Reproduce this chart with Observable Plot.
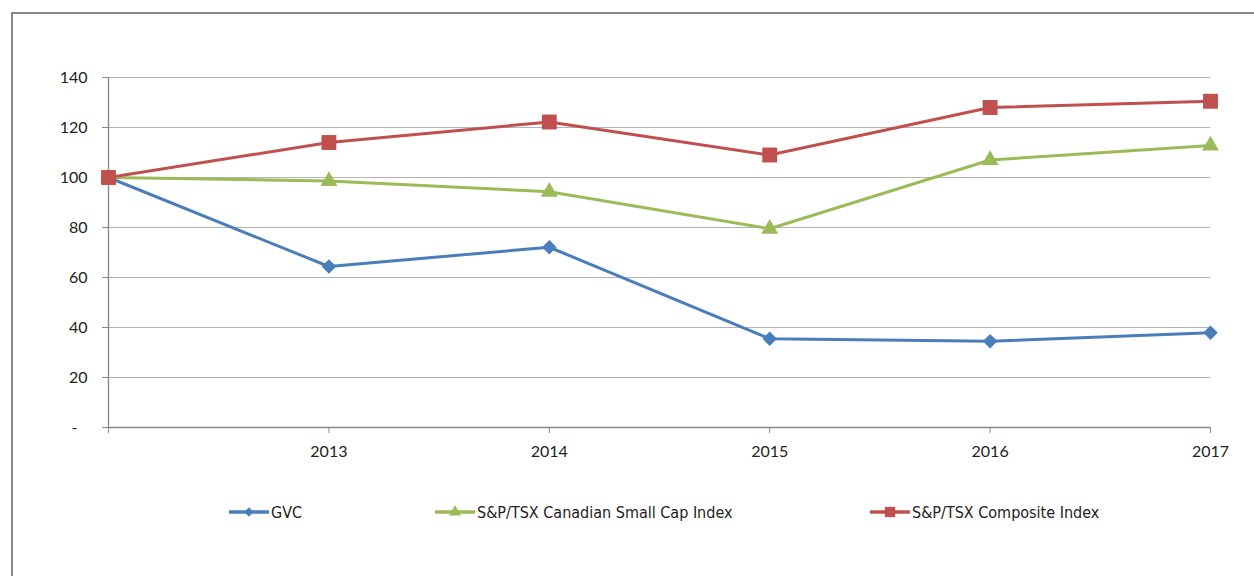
<!DOCTYPE html>
<html>
<head>
<meta charset="utf-8">
<script src="https://cdn.jsdelivr.net/npm/d3@7"></script>
<script src="https://cdn.jsdelivr.net/npm/@observablehq/plot@0.6"></script>
<style>
  html, body { margin: 0; padding: 0; background: #fff; }
  #wrap { position: relative; width: 1254px; height: 576px; overflow: hidden; }
  #frame { position: absolute; left: 11px; top: 12px; width: 1260px; height: 600px; border: 2px solid #878787; box-sizing: border-box; }
  #chart { position: absolute; left: 0; top: 0; }
  #legend { position: absolute; left: 0; top: 499px; width: 1254px; height: 26px; font-family: "DejaVu Sans Condensed", "Liberation Sans Narrow", sans-serif; font-size: 16px; color: #222; }
  .item { position: absolute; top: 0; display: flex; align-items: center; height: 26px; }
  .item svg { display: block; }
</style>
</head>
<body>
<div id="wrap">
  <div id="frame"></div>
  <div id="chart"></div>
  <div id="legend"></div>
</div>
<script>
const years = [2012, 2013, 2014, 2015, 2016, 2017];
const tickYears = [2013, 2014, 2015, 2016, 2017];
const yTicks = [0, 20, 40, 60, 80, 100, 120, 140];
const seriesNames = ["GVC", "S&P/TSX Canadian Small Cap Index", "S&P/TSX Composite Index"];
const gvc = [100, 64.4, 72.1, 35.5, 34.5, 37.9];
const smallCap = [100, 98.6, 94.3, 79.5, 107, 112.8];
const composite = [100, 114, 122.2, 109, 128, 130.5];
const colors = ["#4a7ebb", "#9bbb59", "#c0504d"];
const symbols = ["diamond2", "triangle", "square"];
const symbolR = [5.6, 6.3, 8.4];

const valuesBySeries = [gvc, smallCap, composite];
const data = [];
seriesNames.forEach((s, i) => years.forEach((y, j) => data.push({series: s, year: y, value: valuesBySeries[i][j]})));

const marks = [
  Plot.gridY(yTicks, {stroke: "#b3b3b3", strokeOpacity: 1, strokeWidth: 1.2}),
  Plot.axisY(yTicks, {
    label: null,
    tickSize: 6, tickPadding: 15, stroke: "#888",
    tickFormat: d => d === 0 ? "-\u2002\u2009" : String(d),
    fontSize: 16, fill: "#222"
  }),
  Plot.axisX([2012, ...tickYears], {
    label: null,
    tickSize: 6, tickPadding: 12, stroke: "#888",
    tickFormat: d => d === 2012 ? "" : String(d),
    fontSize: 16, fill: "#222"
  }),
  Plot.ruleY([0], {stroke: "#888", strokeWidth: 1.3}),
  Plot.ruleX([2012], {stroke: "#888", strokeWidth: 1.3})
];
seriesNames.forEach((s, i) => {
  const d = data.filter(r => r.series === s);
  marks.push(Plot.line(d, {x: "year", y: "value", stroke: colors[i], strokeWidth: 3}));
  marks.push(Plot.dot(d, {x: "year", y: "value", symbol: () => symbols[i], fill: colors[i], stroke: colors[i], strokeWidth: i === 0 ? 1.5 : 0, r: symbolR[i]}));
});

const chart = Plot.plot({
  width: 1254,
  height: 470,
  marginLeft: 108,
  marginRight: 44,
  marginTop: 77,
  marginBottom: 43,
  style: {fontFamily: "Lato, 'Open Sans', sans-serif", background: "transparent"},
  x: {domain: [2012, 2017], axis: null},
  y: {domain: [0, 140], axis: null},
  symbol: {type: "identity"},
  marks
});
document.getElementById("chart").appendChild(chart);

// legend
const legendX = [229, 435, 870];
const legend = d3.select("#legend");
const symMap = {diamond2: d3.symbolDiamond2, triangle: d3.symbolTriangle, square: d3.symbolSquare};
seriesNames.forEach((s, i) => {
  const item = legend.append("div").attr("class", "item").style("left", legendX[i] + "px");
  const svg = item.append("svg").attr("width", 40).attr("height", 26);
  svg.append("line").attr("x1", 0).attr("x2", 40).attr("y1", 13).attr("y2", 13).attr("stroke", colors[i]).attr("stroke-width", 3.5);
  const size = Math.PI * Math.pow(symbolR[i] * 0.7, 2);
  svg.append("path").attr("transform", "translate(20,13)").attr("d", d3.symbol(symMap[symbols[i]], size)()).attr("fill", colors[i]).attr("stroke", colors[i]).attr("stroke-width", i === 0 ? 1 : 0);
  item.append("span").style("margin-left", "2px").text(s);
});
</script>
</body>
</html>
